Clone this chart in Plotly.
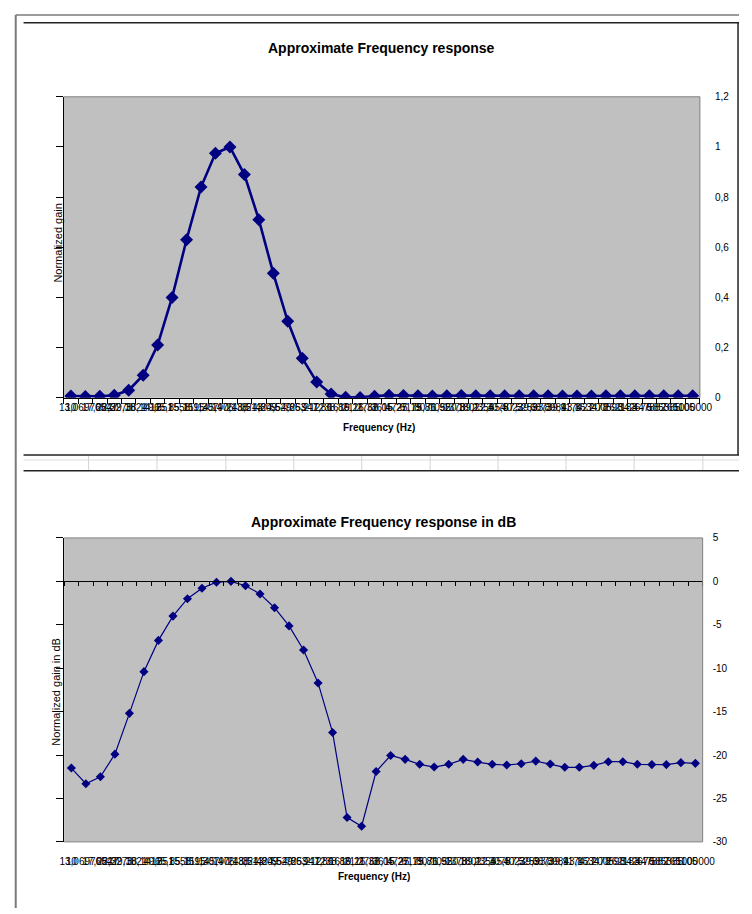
import plotly.graph_objects as go

# ---------------- data ----------------
freq_labels = ["10", "13,0697654", "17,0827", "22,3273", "29,1821", "38,1412", "49,851",
               "65,1558", "85,1595", "111,307", "145,476", "190,138", "248,513", "324,809",
               "424,529", "554,863", "725,212", "947,86", "1238,86", "1619,21", "2116,32",
               "2766,05", "3615,27", "4725,19", "6175,86", "8071,92", "10550,3", "13789,1",
               "18022,4", "23555,5", "30787,3", "40239,3", "52593,3", "68739,9", "89843,8",
               "117427", "153478", "200598", "262183", "342676", "447882", "585385",
               "765105", "1000000"]

gain = [0.007, 0.005, 0.006, 0.010, 0.030, 0.090, 0.21, 0.40, 0.63, 0.84, 0.975, 1.0,
        0.89, 0.71, 0.496, 0.305, 0.158, 0.063, 0.015, 0.002, 0.0015, 0.0065, 0.0099,
        0.0089, 0.0078, 0.0073, 0.0078, 0.0089, 0.0083, 0.0078, 0.0077, 0.0079, 0.0085,
        0.0079, 0.0072, 0.0072, 0.0076, 0.0084, 0.0084, 0.0078, 0.0078, 0.0078, 0.0082,
        0.0080]

gain_db = [-21.5, -23.3, -22.5, -19.9, -15.2, -10.4, -6.8, -4.0, -2.0, -0.8, -0.1, 0.0,
           -0.5, -1.45, -3.04, -5.13, -7.9, -11.7, -17.4, -27.2, -28.2, -21.9, -20.05,
           -20.5, -21.07, -21.38, -21.07, -20.5, -20.81, -21.07, -21.15, -21.0, -20.7,
           -21.03, -21.41, -21.41, -21.19, -20.77, -20.77, -21.07, -21.1, -21.1, -20.88,
           -20.96]

gain_ticks = [0, 0.2, 0.4, 0.6, 0.8, 1.0, 1.2]
gain_ticktext = ["0", "0,2", "0,4", "0,6", "0,8", "1", "1,2"]
db_ticks = [-30, -25, -20, -15, -10, -5, 0, 5]
db_ticktext = ["-30", "-25", "-20", "-15", "-10", "-5", "0", "5"]

# ---------------- layout helpers ----------------
W, H = 752, 914
FONT = "Liberation Sans, Arial, sans-serif"
NAVY = "#000080"


def px(x):
    return x / W


def py(y):
    return (H - y) / H


top_dom_x = [px(61), px(712)]
top_dom_y = [py(397), py(92)]
bot_dom_x = [px(61.5), px(714.8)]
bot_dom_y = [py(847), py(539)]
db_range = [-30, 5]
zero_pos = bot_dom_y[0] + (0 - db_range[0]) / (db_range[1] - db_range[0]) * (bot_dom_y[1] - bot_dom_y[0])

fig = go.Figure()

# top chart
fig.add_trace(go.Scatter(x=freq_labels, y=gain, xaxis="x", yaxis="y", mode="lines+markers",
                         line=dict(color=NAVY, width=2.6),
                         marker=dict(symbol="diamond", size=10, color=NAVY),
                         showlegend=False, hoverinfo="x+y"))
fig.add_trace(go.Scatter(x=freq_labels, y=gain, xaxis="x", yaxis="y3", mode="lines",
                         opacity=0, showlegend=False, hoverinfo="skip"))
# bottom chart
fig.add_trace(go.Scatter(x=freq_labels, y=gain_db, xaxis="x2", yaxis="y2", mode="lines+markers",
                         line=dict(color=NAVY, width=1.2),
                         marker=dict(symbol="diamond", size=7, color=NAVY),
                         showlegend=False, hoverinfo="x+y"))
fig.add_trace(go.Scatter(x=freq_labels, y=gain_db, xaxis="x2", yaxis="y4", mode="lines",
                         opacity=0, showlegend=False, hoverinfo="skip"))
fig.add_trace(go.Scatter(x=freq_labels, y=gain_db, xaxis="x3", yaxis="y2", mode="lines",
                         opacity=0, showlegend=False, hoverinfo="skip"))

tickfont = dict(family=FONT, size=10, color="#000000")
cat_range = [-0.5, len(freq_labels) - 0.5]

fig.update_layout(
    width=W, height=H,
    margin=dict(l=0, r=0, t=0, b=0),
    paper_bgcolor="white",
    plot_bgcolor="#C0C0C0",
    showlegend=False,
    xaxis=dict(domain=top_dom_x, anchor="y", type="category", range=cat_range,
               tickmode="array", tickvals=freq_labels, ticktext=freq_labels,
               tickson="boundaries", ticks="outside", ticklen=5, tickcolor="black",
               showline=True, linecolor="black", linewidth=1, tickangle=0,
               tickfont=tickfont, showgrid=False, zeroline=False, fixedrange=True),
    yaxis=dict(domain=top_dom_y, anchor="x", range=[0, 1.2], tickmode="array",
               tickvals=gain_ticks, ticks="outside", ticklen=7, tickcolor="black",
               showticklabels=False, showline=True, linecolor="black", linewidth=1,
               showgrid=False, zeroline=False),
    yaxis3=dict(overlaying="y", side="right", anchor="x", range=[0, 1.2], tickmode="array",
                tickvals=gain_ticks, ticktext=gain_ticktext, ticks="", showline=False,
                showgrid=False, zeroline=False, tickfont=tickfont, ticklabelstandoff=14),
    xaxis2=dict(domain=bot_dom_x, anchor="y2", type="category", range=cat_range,
                tickmode="array", tickvals=freq_labels, ticktext=freq_labels,
                ticks="", showline=False, tickangle=0, tickfont=tickfont,
                showgrid=False, zeroline=False, ticklabelstandoff=12),
    xaxis3=dict(overlaying="x2", anchor="free", position=zero_pos, type="category",
                range=cat_range, tickmode="array", tickvals=freq_labels,
                tickson="boundaries", ticks="outside", ticklen=4, tickcolor="black",
                showticklabels=False, showline=True, linecolor="black", linewidth=1,
                showgrid=False, zeroline=False),
    yaxis2=dict(domain=bot_dom_y, anchor="x2", range=db_range, tickmode="array",
                tickvals=db_ticks, ticks="outside", ticklen=7, tickcolor="black",
                showticklabels=False, showline=True, linecolor="black", linewidth=1,
                showgrid=False, zeroline=False),
    yaxis4=dict(overlaying="y2", side="right", anchor="x2", range=db_range, tickmode="array",
                tickvals=db_ticks, ticktext=db_ticktext, ticks="", showline=False,
                showgrid=False, zeroline=False, tickfont=tickfont, ticklabelstandoff=9),
)

# plot-area borders (gray) on the non-axis sides
border = dict(color="#808080", width=1)
for xr, yr, sides in [("x domain", "y domain", [(0, 1, 1, 1), (1, 0, 1, 1)]),
                      ("x2 domain", "y2 domain", [(0, 1, 1, 1), (1, 0, 1, 1), (0, 0, 1, 0)])]:
    for x0, y0, x1, y1 in sides:
        fig.add_shape(type="line", xref=xr, yref=yr, x0=x0, y0=y0, x1=x1, y1=y1,
                      line=border, layer="above")

# spreadsheet / chart frame decoration
frame = [
    (12, 9, 12, 914, "#7a7a7a", 2),
    (12, 9, 752, 9, "#7a7a7a", 1.5),
    (20, 17, 752, 17, "#222222", 1.5),
    (751, 17, 751, 455, "#222222", 1.5),
    (20, 455, 752, 455, "#222222", 1.5),
    (20, 460, 752, 460, "#dedede", 1),
    (20, 471, 752, 471, "#222222", 1.5),
]
for gx in [86.5, 156.5, 227, 296.5, 366, 436, 505.5, 575, 644.7, 715]:
    frame.append((gx, 456, gx, 470, "#d4d4d4", 1))
for x0, y0, x1, y1, c, w in frame:
    fig.add_shape(type="line", xref="paper", yref="paper", x0=px(x0), y0=py(y0),
                  x1=px(x1), y1=py(y1), line=dict(color=c, width=w), layer="above")

# titles
def ann(text, x, y, size, bold=False, angle=0):
    fig.add_annotation(text=f"<b>{text}</b>" if bold else text, xref="paper", yref="paper",
                       x=px(x), y=py(y), showarrow=False, textangle=angle,
                       xanchor="center", yanchor="middle",
                       font=dict(family=FONT, size=size, color="black"))

ann("Approximate Frequency response", 386, 43, 14, bold=True)
ann("Frequency (Hz)", 384, 427, 10, bold=True)
ann("Normalized gain", 55, 240, 11, angle=-90)
ann("Approximate Frequency response in dB", 388, 523, 14, bold=True)
ann("Frequency (Hz)", 379, 882, 10, bold=True)
ann("Normalized gain in dB", 53, 695, 11, angle=-90)

fig.write_html("out.html")
